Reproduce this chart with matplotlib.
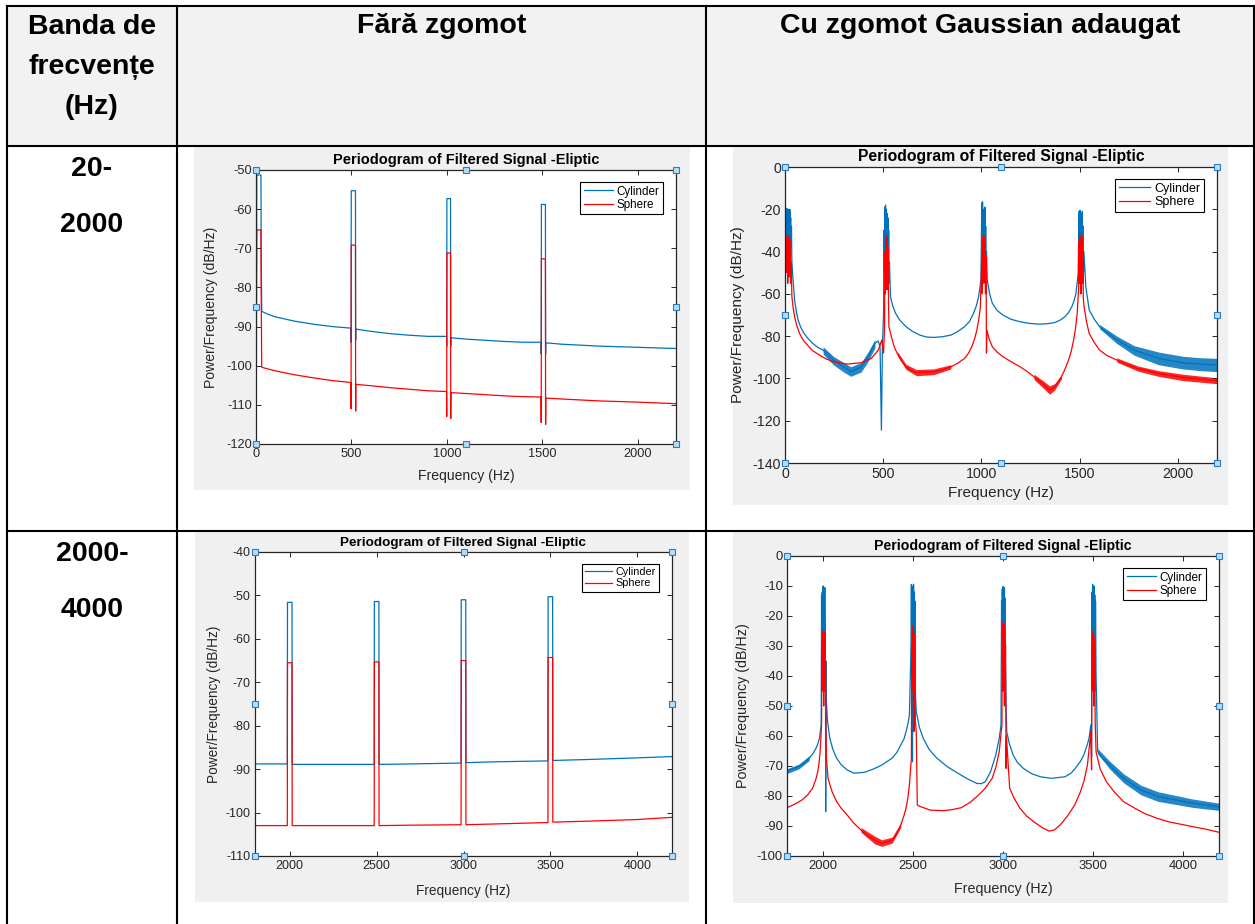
import matplotlib
matplotlib.use('Agg')
import matplotlib.pyplot as plt
from matplotlib.patches import Rectangle

plt.rcParams['font.family'] = ['Liberation Sans', 'DejaVu Sans']
plt.rcParams['axes.unicode_minus'] = False

W, H = 1255, 924

# --- texts of the table
header_band = ['Banda de', 'frecvențe', '(Hz)']
header_cols = ['Fără zgomot', 'Cu zgomot Gaussian adaugat']
band_rows = [['20-', '2000'], ['2000-', '4000']]
series_names = ['Cylinder', 'Sphere']
plot_title = 'Periodogram of Filtered Signal -Eliptic'
x_label = 'Frequency (Hz)'
y_label = 'Power/Frequency (dB/Hz)'

# --- 20-2000 Hz, no noise (frequency Hz / level dB/Hz)
clean_low_f = [0, 2, 3, 4, 26, 27, 30, 60, 100, 200, 300, 400, 497, 498, 499, 521, 522, 523,
               530, 600, 700, 800, 900, 998, 999, 1000, 1019, 1020, 1021, 1030, 1100, 1200,
               1300, 1400, 1493, 1494, 1495, 1516, 1517, 1518, 1530, 1600, 1800, 2000, 2200]
cyl_clean_low = [-85, -88.5, -70, -51.3, -51.3, -70, -86.1, -86.8, -87.5, -88.6, -89.4, -90,
                 -90.4, -94, -55.3, -55.3, -93.5, -90.6, -90.7, -91.2, -91.8, -92.2, -92.5,
                 -92.5, -95, -57.3, -57.3, -95, -92.9, -92.9, -93.2, -93.5, -93.8, -94.0, -94.0,
                 -97, -58.8, -58.8, -97, -94.2, -94.2, -94.5, -95.0, -95.3, -95.6]
sph_clean_low = [-100, -102, -80, -65.3, -65.3, -80, -100.4, -100.8, -101.3, -102.3, -103.1,
                 -103.8, -104.3, -111, -69.2, -69.2, -111.6, -104.7, -104.8, -105.1, -105.6,
                 -106.0, -106.4, -106.6, -113, -71.2, -71.2, -113.5, -106.9, -106.9, -107.1,
                 -107.4, -107.7, -107.9, -108.0, -114.5, -72.7, -72.7, -115, -108.3, -108.3,
                 -108.5, -109.0, -109.3, -109.7]

# --- 2000-4000 Hz, no noise
clean_high_f = [1800, 1986, 1987, 2013, 2014, 2200, 2486, 2487, 2513, 2514, 2700, 2986, 2987,
                3013, 3014, 3200, 3486, 3487, 3513, 3514, 3700, 4000, 4200]
cyl_clean_high = [-88.8, -88.8, -51.6, -51.6, -88.9, -88.9, -88.9, -51.4, -51.4, -88.9, -88.8,
                  -88.6, -51.0, -51.0, -88.5, -88.3, -88.1, -50.3, -50.3, -88.0, -87.8, -87.4,
                  -87.1]
sph_clean_high = [-103, -103, -65.5, -65.5, -103, -103, -103, -65.3, -65.3, -103, -102.9,
                  -102.8, -65.0, -65.0, -102.8, -102.6, -102.3, -64.3, -64.3, -102.2, -102.0,
                  -101.6, -101.1]

# --- 20-2000 Hz, gaussian noise added: (Hz, dB/Hz)
cyl_noisy_low = [(0, -62), (1, -73), (3, -45), (5, -22), (7, -35), (9, -19.5), (11, -30),
                 (13, -21), (15, -40), (17, -20), (19, -28), (21, -22), (23, -35), (25, -20.5),
                 (27, -30), (29, -24), (31, -38), (33, -28), (35, -45), (40, -52), (49, -63),
                 (58, -68.5), (67, -72.4), (80, -75.8), (97, -78.7), (118, -81.2), (141, -83.4),
                 (165, -85.2), (194, -86.6), (246, -91.3), (299, -94.5), (335, -96.9),
                 (387, -94.5), (423, -89.7), (458, -83.4), (475, -82.3), (484, -85),
                 (491, -124.5), (496, -85), (502, -69), (504, -30), (506, -50), (508, -19),
                 (510, -40), (512, -18), (514, -55), (516, -20), (518, -35), (520, -22),
                 (522, -45), (524, -24), (526, -50), (528, -30), (530, -55), (532, -45),
                 (537, -61.3), (548, -65.5), (563, -69.2), (585, -72.5), (616, -75.5),
                 (650, -77.8), (687, -79.5), (720, -80.4), (757, -80.6), (800, -80.3),
                 (845, -79.5), (880, -77.8), (915, -75.5), (940, -73), (960, -69.2),
                 (975, -65.5), (986, -61.3), (998, -53.4), (1000, -35), (1002, -17),
                 (1004, -40), (1006, -16.5), (1008, -30), (1010, -20), (1012, -45), (1014, -22),
                 (1016, -35), (1018, -19), (1020, -50), (1022, -28), (1024, -45), (1026, -40),
                 (1030, -53.4), (1042, -60), (1056, -64.5), (1080, -67.8), (1109, -70),
                 (1150, -72), (1197, -73.2), (1240, -73.9), (1285, -74.3), (1330, -74.2),
                 (1373, -73.6), (1400, -72.5), (1426, -70.8), (1445, -68.7), (1461, -66),
                 (1473, -63), (1482, -59.7), (1493, -50.2), (1496, -30), (1498, -21),
                 (1500, -40), (1502, -20.5), (1504, -35), (1506, -22), (1508, -50), (1510, -24),
                 (1512, -38), (1514, -21), (1516, -45), (1518, -28), (1520, -50), (1522, -40),
                 (1532, -56.6), (1549, -67.6), (1575, -72), (1602, -75.5), (1690, -81.8),
                 (1778, -86.6), (1901, -90.5), (2025, -92.6), (2113, -93.2), (2200, -93.7)]
sph_noisy_low = [(0, -62), (2, -50), (4, -34), (6, -45), (8, -33), (10, -50), (12, -35),
                 (14, -55), (16, -33), (18, -45), (20, -36), (22, -52), (24, -34), (26, -48),
                 (28, -38), (30, -55), (32, -45), (35, -61.3), (42, -67), (49, -70.8),
                 (60, -75), (74, -78.7), (92, -81.8), (114, -84.2), (140, -86.8), (176, -89),
                 (210, -90.8), (246, -92.1), (317, -93.2), (387, -92.6), (440, -90.5),
                 (475, -86.6), (493, -81.8), (502, -88), (507, -75.5), (509, -40), (511, -60),
                 (513, -33), (515, -50), (517, -35), (519, -58), (521, -32.5), (523, -48),
                 (525, -38), (527, -62), (529, -75.5), (546, -81.8), (558, -85.5),
                 (572, -88.2), (592, -91.5), (616, -94.5), (640, -96.2), (669, -97.2),
                 (757, -96.9), (800, -96), (845, -94.5), (880, -92.8), (915, -90.5), (935, -88),
                 (951, -85), (965, -81.5), (977, -77.1), (987, -72), (995, -66), (1003, -40),
                 (1005, -60), (1007, -33), (1009, -50), (1011, -35), (1013, -55), (1015, -33),
                 (1017, -48), (1019, -36), (1021, -60), (1023, -42), (1025, -65), (1026, -88),
                 (1028, -77.1), (1040, -81.5), (1056, -85), (1080, -87.5), (1109, -89.7),
                 (1150, -92), (1197, -94.5), (1230, -96.5), (1268, -99.2), (1295, -101.3),
                 (1320, -103.2), (1347, -105.5), (1373, -104), (1390, -101.8), (1408, -99.2),
                 (1425, -95.8), (1444, -91.3), (1458, -87), (1470, -81.8), (1480, -76),
                 (1488, -69.2), (1495, -58.1), (1497, -35), (1499, -55), (1501, -32),
                 (1503, -48), (1505, -34), (1507, -60), (1509, -36), (1511, -50), (1513, -33),
                 (1515, -55), (1517, -40), (1519, -62), (1523, -66), (1535, -73), (1549, -78.7),
                 (1575, -83), (1602, -86.6), (1640, -89.2), (1690, -91.3), (1740, -93.5),
                 (1796, -95.3), (1901, -97.6), (2025, -99.5), (2200, -101.1)]
# spread of the noise: (Hz, lower dB, upper dB)
cyl_noisy_low_spread = [[(194, -88.5, -85), (246, -93.5, -89.5), (299, -97, -92.5),
                         (335, -99, -94.5), (387, -97, -92.5), (423, -92, -87.5),
                         (458, -85.5, -81.5)],
                        [(1602, -76.5, -74.5), (1690, -83.5, -80), (1778, -89, -84.5),
                         (1901, -93.5, -87.5), (2025, -95.5, -89.5), (2113, -96.3, -90.2),
                         (2200, -96.8, -90.5)]]
sph_noisy_low_spread = [[(572, -89.2, -87.2), (616, -95.7, -93.3), (669, -98.7, -95.8),
                         (757, -98.2, -95.5), (845, -95.5, -93.5)],
                        [(1268, -100.5, -98), (1320, -105, -101.5), (1347, -107.5, -103.5),
                         (1373, -105.5, -102.5), (1408, -100.2, -98.2)],
                        [(1690, -92.3, -90.3), (1796, -96.5, -94.1), (1901, -99, -96.3),
                         (2025, -101, -98), (2200, -102.5, -99.7)]]

# --- 2000-4000 Hz, gaussian noise added
cyl_noisy_high = [(1800, -71.7), (1865, -70.2), (1900, -68.8), (1923, -67.4), (1945, -65.8),
                  (1961, -64.1), (1972, -62.5), (1980, -60.8), (1990, -56.3), (1992, -13),
                  (1994, -40), (1996, -12), (1998, -30), (2000, -10), (2002, -35), (2004, -11),
                  (2006, -25), (2008, -45), (2010, -10.5), (2012, -30), (2014, -48),
                  (2015, -85.2), (2017, -35), (2019, -48.6), (2025, -55), (2038, -60.8),
                  (2055, -64.5), (2076, -67.4), (2100, -69.5), (2134, -71.3), (2172, -72.4),
                  (2230, -72.1), (2280, -71), (2326, -69.7), (2384, -67.4), (2410, -65.5),
                  (2432, -63), (2450, -61), (2461, -58.6), (2472, -56), (2480, -53),
                  (2489, -30), (2491, -9.5), (2493, -35), (2495, -12), (2497, -68.6),
                  (2499, -10), (2501, -28), (2503, -9.4), (2505, -40), (2507, -12), (2509, -30),
                  (2511, -15), (2513, -45), (2518, -51.9), (2535, -57), (2557, -60.8),
                  (2590, -64.5), (2633, -67.4), (2690, -70.2), (2749, -72.4), (2800, -74.2),
                  (2854, -75.8), (2880, -75.9), (2902, -75.2), (2931, -71.9), (2960, -66.3),
                  (2979, -60.8), (2989, -56.3), (2992, -15), (2994, -35), (2996, -11),
                  (2998, -28), (3000, -10.2), (3002, -40), (3004, -12), (3006, -30),
                  (3008, -10.5), (3010, -45), (3012, -14), (3014, -35), (3017, -50),
                  (3021, -58.6), (3035, -62.5), (3056, -66.3), (3080, -68.8), (3113, -70.8),
                  (3160, -72.6), (3209, -73.6), (3267, -74.1), (3344, -73.6), (3380, -72.3),
                  (3401, -70.8), (3430, -68.5), (3449, -66.3), (3465, -63.5), (3478, -60.8),
                  (3488, -56.3), (3492, -67), (3494, -12), (3496, -35), (3498, -9.4),
                  (3500, -28), (3502, -11), (3504, -40), (3506, -10), (3508, -30), (3510, -13),
                  (3512, -45), (3514, -15), (3517, -40), (3526, -65.2), (3555, -67.5),
                  (3593, -69.7), (3630, -72), (3670, -74.1), (3720, -76.2), (3766, -78),
                  (3862, -80.2), (3958, -81.3), (4054, -82.4), (4200, -83.6)]
sph_noisy_high = [(1800, -83.9), (1840, -82.8), (1884, -81.3), (1915, -79.6), (1942, -77.4),
                  (1960, -74.5), (1971, -71.9), (1979, -68.5), (1984, -65.2), (1992, -56.3),
                  (1994, -30), (1996, -45), (1998, -25), (2000, -40), (2002, -26), (2004, -50),
                  (2006, -28), (2008, -42), (2010, -25.5), (2012, -45), (2014, -35),
                  (2016, -55), (2019, -67.4), (2028, -74.1), (2050, -78.5), (2076, -81.9),
                  (2100, -84), (2134, -86.3), (2170, -89), (2211, -91.3), (2250, -93.3),
                  (2288, -94.7), (2326, -95.8), (2384, -94.7), (2410, -92.5), (2432, -89.7),
                  (2450, -86.5), (2461, -84.1), (2472, -80.5), (2480, -76.3), (2491, -67.4),
                  (2493, -30), (2495, -45), (2497, -24), (2499, -40), (2501, -23.2),
                  (2503, -50), (2505, -58.5), (2507, -26), (2509, -45), (2511, -30),
                  (2513, -55), (2518, -58.6), (2524, -83), (2540, -83.5), (2595, -84.7),
                  (2672, -84.9), (2720, -84.5), (2768, -83.9), (2820, -82), (2864, -79.7),
                  (2900, -77.5), (2940, -74.1), (2960, -70.5), (2979, -65.2), (2994, -56.3),
                  (2996, -30), (2998, -22.2), (3000, -45), (3002, -24), (3004, -38),
                  (3006, -23), (3008, -50), (3010, -28), (3012, -42), (3014, -30), (3016, -55),
                  (3017, -70.8), (3019, -60), (3037, -77.4), (3060, -80.5), (3094, -84.1),
                  (3130, -86.6), (3171, -88.6), (3220, -90.6), (3257, -91.7), (3286, -91.3),
                  (3320, -89.5), (3363, -86.3), (3400, -82.8), (3430, -78.6), (3450, -75),
                  (3469, -69.7), (3488, -58.6), (3492, -71.3), (3494, -30), (3496, -45),
                  (3498, -25), (3500, -40), (3502, -26), (3504, -50), (3506, -27), (3508, -42),
                  (3510, -29), (3512, -55), (3517, -65.2), (3540, -71), (3574, -75.2),
                  (3620, -78.8), (3670, -81.9), (3730, -84), (3785, -85.8), (3850, -87.3),
                  (3919, -88.6), (4054, -90.2), (4130, -91.1), (4200, -92.1)]
cyl_noisy_high_spread = [[(1800, -72.5, -70.9), (1865, -71, -69.4), (1923, -68.2, -66.6)],
                         [(3526, -66, -64.2), (3593, -71, -68.4), (3670, -75.6, -72.6),
                          (3766, -79.6, -76.4), (3862, -81.8, -78.6), (3958, -82.8, -79.8),
                          (4054, -83.8, -81), (4200, -84.8, -82.4)]]
sph_noisy_high_spread = [[(2211, -92.1, -90.5), (2288, -96, -93.4), (2326, -96.8, -94.6),
                          (2384, -95.7, -93.7), (2432, -90.5, -88.9)]]

BLUE = '#0072BD'
RED = '#FF0000'
INK = '#262626'

fig = plt.figure(figsize=(W / 100, H / 100), dpi=100)
fig.patch.set_facecolor('white')

# background layer in pixel units for the table
bg = fig.add_axes([0, 0, 1, 1])
bg.set_xlim(0, W)
bg.set_ylim(H, 0)
bg.axis('off')

bg.add_patch(Rectangle((7, 6), 1247, 140, facecolor='#f2f2f2', edgecolor='none'))
for x0, y0, x1, y1 in [(194, 147, 690, 490), (733, 147, 1228, 505),
                       (195, 532, 689, 902), (733, 532, 1228, 903)]:
    bg.add_patch(Rectangle((x0, y0), x1 - x0, y1 - y0, facecolor='#f0f0f0', edgecolor='none'))

lw_tab = 1.5
bg.plot([7, 1254], [6, 6], color='black', lw=lw_tab)
bg.plot([7, 1254], [146, 146], color='black', lw=lw_tab)
bg.plot([7, 1254], [531, 531], color='black', lw=lw_tab)
for xv in [7, 177, 706, 1254]:
    bg.plot([xv, xv], [6, H], color='black', lw=lw_tab)

hfont = dict(fontsize=20.5, fontweight='bold', ha='center', va='baseline', color='black')
for line, yb in zip(header_band, [34, 74, 114]):
    bg.text(92, yb, line, **hfont)
bg.text(441.5, 33, header_cols[0], **hfont)
bg.text(980, 33, header_cols[1], **hfont)
for (a, b), y0 in zip(band_rows, [176, 561]):
    bg.text(92, y0, a, **hfont)
    bg.text(92, y0 + 56, b, **hfont)


def px_axes(l, t, r, b):
    return fig.add_axes([l / W, 1 - b / H, (r - l) / W, (b - t) / H])


def periodogram(box, curves, spreads, xlim, ylim, xticks, yticks, fs, ylab_x, xlab_y):
    l, t, r, b = box
    ax = px_axes(l, t, r, b)
    ax.set_facecolor('white')
    for (fx, vals), color, name in zip(curves, [BLUE, RED], series_names):
        for seg in spreads.get(color, []):
            ax.fill_between([p[0] for p in seg], [p[1] for p in seg], [p[2] for p in seg],
                            color=color, lw=0, alpha=0.85)
        ax.plot(fx, vals, color=color, lw=0.9, label=name)
    ax.set_xlim(*xlim)
    ax.set_ylim(*ylim)
    ax.set_xticks(xticks)
    ax.set_yticks(yticks)
    ax.tick_params(direction='in', length=3.5, width=0.7, top=True, right=True,
                   labelsize=fs[0], labelcolor=INK, color=INK, pad=3)
    for sp in ax.spines.values():
        sp.set_color(INK)
        sp.set_linewidth(0.9)
    ax.set_title(plot_title, fontsize=fs[2], fontweight='bold', color='black', pad=4)
    ax.set_xlabel(x_label, fontsize=fs[1], color=INK)
    ax.set_ylabel(y_label, fontsize=fs[1], color=INK)
    w, h = r - l, b - t
    ax.yaxis.set_label_coords((ylab_x - l) / w, 0.5)
    ax.xaxis.set_label_coords(0.5, -(xlab_y - b) / h)
    leg = ax.legend(loc='upper right', bbox_to_anchor=(1 - 13 / w, 1 - 12 / h),
                    borderaxespad=0, fontsize=fs[3], frameon=True, fancybox=False,
                    edgecolor='black', framealpha=1, handlelength=2.5, handletextpad=0.3,
                    labelspacing=0.1, borderpad=0.3)
    leg.get_frame().set_linewidth(0.8)
    # edit handles drawn by MATLAB around the selected axes
    ax.plot([0, 0.5, 1, 0, 1, 0, 0.5, 1], [0, 0, 0, 0.5, 0.5, 1, 1, 1], 's',
            transform=ax.transAxes, clip_on=False, ms=4.5, mfc='#b5dcf7', mec='#2b7cc0',
            mew=0.8, zorder=10)
    return ax


def unzip(pts):
    return [p[0] for p in pts], [p[1] for p in pts]


periodogram((256, 170, 676, 444),
            [(clean_low_f, cyl_clean_low), (clean_low_f, sph_clean_low)], {},
            (0, 2200), (-120, -50), [0, 500, 1000, 1500, 2000], list(range(-120, -49, 10)),
            (9.2, 10.1, 10.5, 8.4), 218, 469)

periodogram((785, 167, 1217, 463),
            [unzip(cyl_noisy_low), unzip(sph_noisy_low)],
            {BLUE: cyl_noisy_low_spread, RED: sph_noisy_low_spread},
            (0, 2200), (-140, 0), [0, 500, 1000, 1500, 2000], list(range(-140, 1, 20)),
            (10.2, 11.1, 11.3, 9.0), 745, 486)

periodogram((255, 552, 672, 856),
            [(clean_high_f, cyl_clean_high), (clean_high_f, sph_clean_high)], {},
            (1800, 4200), (-110, -40), [2000, 2500, 3000, 3500, 4000],
            list(range(-110, -39, 10)), (9.0, 9.8, 9.7, 7.8), 221, 884)

periodogram((787, 556, 1219, 856),
            [unzip(cyl_noisy_high), unzip(sph_noisy_high)],
            {BLUE: cyl_noisy_high_spread, RED: sph_noisy_high_spread},
            (1800, 4200), (-100, 0), [2000, 2500, 3000, 3500, 4000],
            list(range(-100, 1, 10)), (9.4, 10.3, 10.2, 8.4), 750, 882)

fig.savefig('out.png', dpi=100)
